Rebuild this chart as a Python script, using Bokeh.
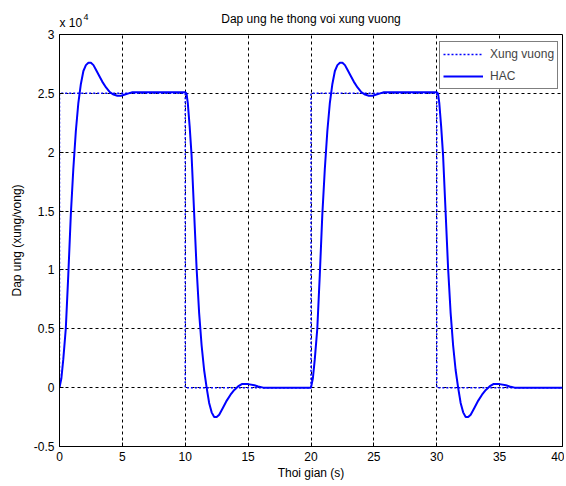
from bokeh.plotting import figure
from bokeh.models import Range1d, FixedTicker, CustomJSTickFormatter, Label, Legend, LegendItem
from bokeh.embed import file_html
from bokeh.resources import INLINE

# ---- data ----
title_text = "Dap ung he thong voi xung vuong"
x_label = "Thoi gian (s)"
y_label = "Dap ung (xung/vong)"
series_names = ["Xung vuong", "HAC"]

x_ticks = [0, 5, 10, 15, 20, 25, 30, 35, 40]
y_ticks = [-5000, 0, 5000, 10000, 15000, 20000, 25000, 30000]

# square wave reference
sq_t = [0, 0, 10, 10, 20, 20, 30, 30, 40]
sq_y = [0, 25000, 25000, 0, 0, 25000, 25000, 0, 0]

# HAC response
hac_t = [0, 0.15, 0.3, 0.5, 0.7, 0.9, 1.1, 1.3, 1.5, 1.7, 1.9, 2.1, 2.3, 2.5, 2.7, 2.9, 3.1, 3.4, 3.7,
         4.0, 4.3, 4.6, 4.9, 5.2, 5.5, 5.8, 6.2, 10.0,
         10.1, 10.2, 10.35, 10.5, 10.7, 10.9, 11.1, 11.3, 11.5, 11.7, 11.9, 12.1, 12.3, 12.5, 12.7,
         13.0, 13.3, 13.6, 13.9, 14.2, 14.5, 15.0, 15.5, 15.8, 16.2, 20.0,
         20.15, 20.3, 20.5, 20.7, 20.9, 21.1, 21.3, 21.5, 21.7, 21.9, 22.1, 22.3, 22.5, 22.7, 22.9, 23.1,
         23.4, 23.7, 24.0, 24.3, 24.6, 24.9, 25.2, 25.5, 25.8, 26.2, 30.0,
         30.1, 30.2, 30.35, 30.5, 30.7, 30.9, 31.1, 31.3, 31.5, 31.7, 31.9, 32.1, 32.3, 32.5, 32.7,
         33.0, 33.3, 33.6, 33.9, 34.2, 34.5, 35.0, 35.5, 35.8, 36.2, 40.0]
hac_y = [0, 800, 2400, 5000, 9600, 14700, 18600, 21800, 24200, 25800, 26900, 27400, 27600, 27600, 27400,
         27000, 26600, 26000, 25500, 25100, 24900, 24800, 24800, 24900, 25000, 25100, 25100, 25100,
         25000, 24200, 22200, 19800, 15000, 10200, 6400, 3600, 1500, 0, -1300, -2100, -2500, -2500, -2300,
         -1700, -1100, -600, -200, 100, 300, 300, 200, 100, 0, 0,
         800, 2400, 5000, 9600, 14700, 18600, 21800, 24200, 25800, 26900, 27400, 27600, 27600, 27400,
         27000, 26600, 26000, 25500, 25100, 24900, 24800, 24800, 24900, 25000, 25100, 25100, 25100,
         25000, 24200, 22200, 19800, 15000, 10200, 6400, 3600, 1500, 0, -1300, -2100, -2500, -2500, -2300,
         -1700, -1100, -600, -200, 100, 300, 300, 200, 100, 0, 0]

FONT = "Liberation Sans"
BLUE = "#0000FF"

p = figure(width=564, height=484, output_backend="svg", toolbar_location=None,
           x_range=Range1d(0, 40), y_range=Range1d(-5000, 30000),
           min_border_left=59, min_border_right=2, min_border_top=34, min_border_bottom=38,
           background_fill_color="white", border_fill_color="white")

p.outline_line_color = "black"
p.outline_line_width = 1

for ax in (p.xaxis[0], p.yaxis[0]):
    ax.axis_line_color = "black"
    ax.major_tick_line_color = "black"
    ax.major_tick_in = 4
    ax.major_tick_out = 0
    ax.minor_tick_line_color = None
    ax.major_label_text_font = FONT
    ax.major_label_text_font_size = "12px"
    ax.major_label_text_color = "black"
    ax.axis_label_text_font = FONT
    ax.axis_label_text_font_size = "12px"
    ax.axis_label_text_font_style = "normal"
    ax.axis_label_text_color = "black"
    ax.major_label_standoff = 5

p.xaxis.ticker = FixedTicker(ticks=x_ticks)
p.yaxis.ticker = FixedTicker(ticks=y_ticks)
p.yaxis.formatter = CustomJSTickFormatter(code="return String(tick/10000);")
p.xaxis.axis_label = x_label
p.yaxis.axis_label = y_label
p.xaxis.axis_label_standoff = 2
p.yaxis.axis_label_standoff = 7

for g in (p.xgrid[0], p.ygrid[0]):
    g.grid_line_color = "black"
    g.grid_line_dash = "3 3"
    g.grid_line_width = 1

r_sq = p.line(sq_t, sq_y, line_color=BLUE, line_width=1.5, line_dash="2 2")
r_hac = p.line(hac_t, hac_y, line_color=BLUE, line_width=2)

legend = Legend(items=[LegendItem(label=series_names[0], renderers=[r_sq]),
                       LegendItem(label=series_names[1], renderers=[r_hac])],
                location=(380, 357), margin=0, padding=3, spacing=4,
                glyph_width=40, glyph_height=18, label_height=18, label_standoff=7,
                label_text_font=FONT, label_text_font_size="12px",
                border_line_color="black", border_line_width=1,
                background_fill_color="white", background_fill_alpha=1)
p.add_layout(legend)

# title and exponent as labels in the top panel
p.add_layout(Label(x=20, y=30000, text=title_text, y_offset=16, text_align="center",
                   text_font=FONT, text_font_size="12px", text_baseline="middle", text_color="black"),
             "above")
p.add_layout(Label(x=0, y=30000, text="x 10", x_offset=0, y_offset=12,
                   text_font=FONT, text_font_size="12px", text_baseline="middle", text_color="black"),
             "above")
p.add_layout(Label(x=0, y=30000, text="4", x_offset=24, y_offset=18,
                   text_font=FONT, text_font_size="9px", text_baseline="middle", text_color="black"),
             "above")

open("out.html", "w").write(file_html(p, INLINE))
